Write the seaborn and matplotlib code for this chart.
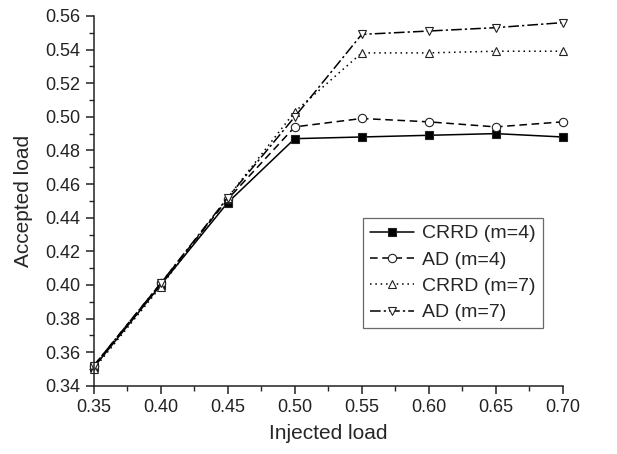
import pandas as pd
import matplotlib
matplotlib.use("Agg")
import matplotlib.pyplot as plt
import seaborn as sns
from matplotlib.ticker import MultipleLocator

# ---------------- DATA ----------------
injected = [0.35, 0.40, 0.45, 0.50, 0.55, 0.60, 0.65, 0.70]
crrd_m4 = [0.351, 0.400, 0.449, 0.487, 0.488, 0.489, 0.490, 0.488]
ad_m4 = [0.352, 0.401, 0.451, 0.494, 0.499, 0.497, 0.494, 0.497]
crrd_m7 = [0.350, 0.399, 0.452, 0.503, 0.538, 0.538, 0.539, 0.539]
ad_m7 = [0.352, 0.401, 0.452, 0.500, 0.549, 0.551, 0.553, 0.556]
labels = ["CRRD (m=4)", "AD (m=4)", "CRRD (m=7)", "AD (m=7)"]
# --------------------------------------

sns.set_style("ticks")
plt.rcParams["font.family"] = ["Liberation Sans", "DejaVu Sans"]

fig = plt.figure(figsize=(6.17, 4.54), dpi=100)
ax = fig.add_axes([0.152, 0.150, 0.760, 0.815])

styles = [
    dict(linestyle="-", marker="s", markerfacecolor="black"),
    dict(linestyle=(0, (5, 3)), marker="o", markerfacecolor="white"),
    dict(linestyle=(0, (1, 2.5)), marker="^", markerfacecolor="white"),
    dict(linestyle=(0, (7, 2, 1.5, 2)), marker="v", markerfacecolor="white"),
]
series = [crrd_m4, ad_m4, crrd_m7, ad_m7]
for vals, lab, st in zip(series, labels, styles):
    df = pd.DataFrame({"x": injected, "y": vals})
    sns.lineplot(data=df, x="x", y="y", ax=ax, color="black", linewidth=1.1,
                 markersize=6, markeredgecolor="#222222", markeredgewidth=0.8,
                 label=lab, clip_on=False, **st)

ax.set_xlim(0.35, 0.70)
ax.set_ylim(0.34, 0.56)
ax.xaxis.set_major_locator(MultipleLocator(0.05))
ax.xaxis.set_minor_locator(MultipleLocator(0.025))
ax.yaxis.set_major_locator(MultipleLocator(0.02))
ax.yaxis.set_minor_locator(MultipleLocator(0.01))
ax.xaxis.set_major_formatter(plt.FormatStrFormatter("%.2f"))
ax.yaxis.set_major_formatter(plt.FormatStrFormatter("%.2f"))
ax.tick_params(which="major", direction="out", length=6, width=1.1, labelsize=13, colors="#222222")
ax.tick_params(which="minor", direction="out", length=3.5, width=1.0)
for side in ["top", "right"]:
    ax.spines[side].set_visible(False)
for side in ["left", "bottom"]:
    ax.spines[side].set_linewidth(1.1)
    ax.spines[side].set_color("#222222")

ax.set_xlabel("Injected load", fontsize=15, labelpad=6)
ax.set_ylabel("Accepted load", fontsize=15, labelpad=9)

leg = ax.legend(loc="upper left", bbox_to_anchor=(0.574, 0.454), fontsize=14,
                frameon=True, fancybox=False, edgecolor="#444444",
                handlelength=2.3, handletextpad=0.4, borderpad=0.35, labelspacing=0.45,
                borderaxespad=0)
leg.get_frame().set_linewidth(0.9)

fig.savefig("out.png", dpi=100)
